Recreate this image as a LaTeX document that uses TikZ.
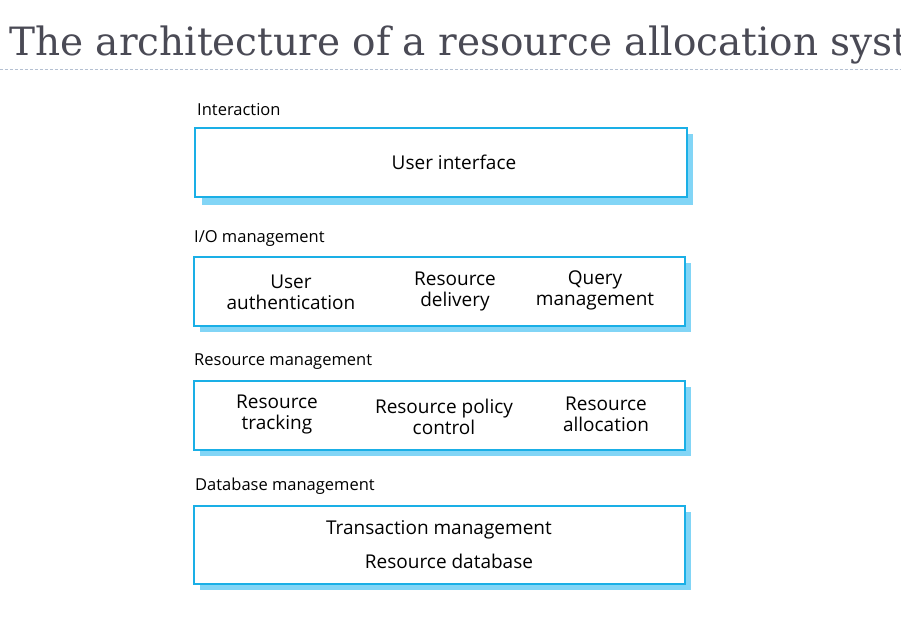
\documentclass[tikz,border=0pt]{standalone}
\usepackage{fontspec}
\setmainfont{Open Sans}
\newfontfamily\titlefont{DejaVu Serif}
\definecolor{edgeblue}{HTML}{1AAFE6}
\definecolor{shadowblue}{HTML}{82D5F6}
\definecolor{titlegray}{HTML}{4A4A55}
\definecolor{rulegray}{HTML}{B4C0D2}
\begin{document}
\begin{tikzpicture}[x=1pt,y=-1pt,
  layerbox/.style={draw=edgeblue,line width=1.6pt,fill=white,minimum width=491pt,inner sep=0pt,anchor=north west},
  shadowbox/.style={fill=shadowblue,draw=none,minimum width=491pt,inner sep=0pt,anchor=north west},
  layerlabel/.style={anchor=west,font=\fontsize{16.5}{18}\selectfont,inner sep=0pt},
  comp/.style={align=center,font=\fontsize{19}{21}\selectfont,inner sep=0pt}]
\useasboundingbox (0,0) rectangle (901,627);
\clip (0,0) rectangle (901,627);
\node[anchor=base west,inner sep=0pt,text=titlegray,font=\titlefont\fontsize{39}{42}\selectfont] (title) at (9,55) {The architecture of a resource allocation system};
\coordinate (r1) at (0,69);
\coordinate (r2) at (901,69);
\draw[rulegray,line width=0.6pt,dash pattern=on 3pt off 2pt] (r1) -- (r2);
% layer 1
\node[shadowbox,minimum height=71pt] (s1) at (202,134) {};
\node[layerbox,minimum height=69pt,minimum width=492pt] (b1) at (194,127) {};
\node[layerlabel] (l1) at (197,110) {Interaction};
\node[comp] (ui) at (454,162) {User interface};
% layer 2
\node[shadowbox,minimum height=69pt] (s2) at (200,263) {};
\node[layerbox,minimum height=69pt] (b2) at (193,256) {};
\node[layerlabel] (l2) at (194,238) {I/O management};
\node[comp] (ua) at (291,292) {User\\authentication};
\node[comp] (rd) at (455,291) {Resource\\delivery};
\node[comp] (qm) at (595,290) {Query\\management};
% layer 3
\node[shadowbox,minimum height=69pt] (s3) at (200,387) {};
\node[layerbox,minimum height=69pt] (b3) at (193,380) {};
\node[layerlabel] (l3) at (194,362) {Resource management};
\node[comp] (rt) at (277,414) {Resource\\tracking};
\node[comp] (rp) at (444,417) {Resource policy\\control};
\node[comp] (ra) at (606,414) {Resource\\allocation};
% layer 4
\node[shadowbox,minimum height=78pt] (s4) at (200,512) {};
\node[layerbox,minimum height=78pt] (b4) at (193,505) {};
\node[layerlabel] (l4) at (195,486) {Database management};
\node[comp] (tm) at (439,530) {Transaction management};
\node[comp] (rdb) at (449,561) {Resource database};
\end{tikzpicture}
\end{document}
